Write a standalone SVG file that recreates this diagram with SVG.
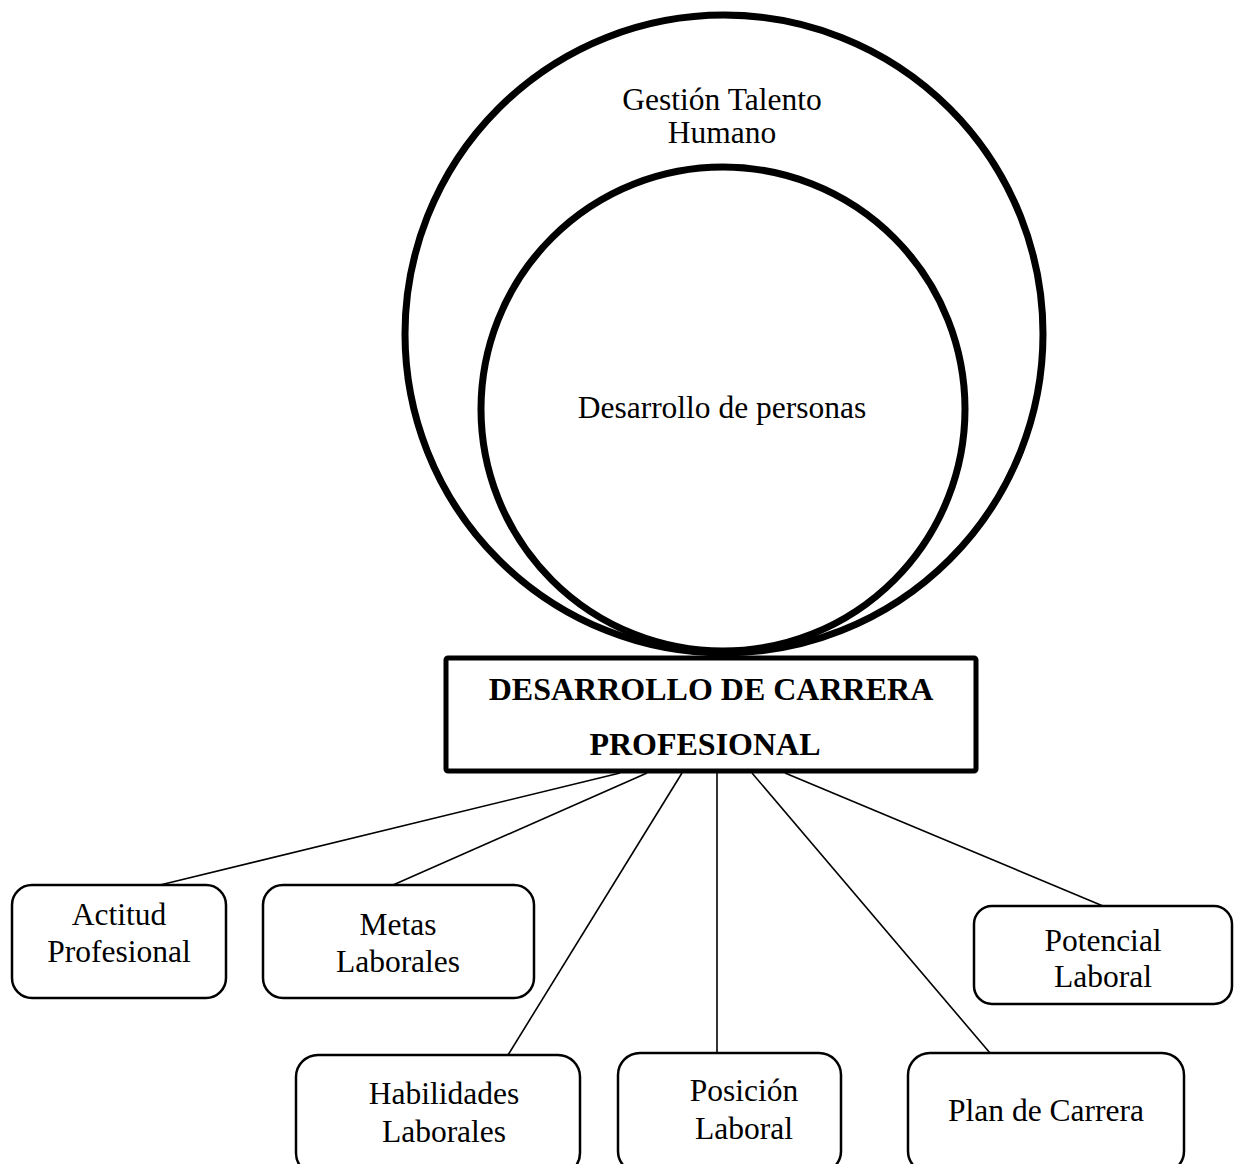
<svg xmlns="http://www.w3.org/2000/svg" width="1238" height="1164" viewBox="0 0 1238 1164">
<style>
text{font-family:"Liberation Serif","Times New Roman",serif;font-size:31.5px;fill:#000;text-anchor:middle}
.b{font-weight:bold;font-size:32px}
.circ{fill:#fff;stroke:#000;stroke-width:7}
.node{fill:#fff;stroke:#000;stroke-width:2.5}
.conn line{stroke:#000;stroke-width:1.6}
</style>
<rect width="1238" height="1164" fill="#fff"/>
<g id="outer">
<circle class="circ" cx="724" cy="334" r="319"/>
<text x="722" y="110">Gestión Talento</text>
<text x="722" y="143">Humano</text>
</g>
<g id="inner">
<circle class="circ" cx="723" cy="409" r="242"/>
<text x="722" y="418">Desarrollo de personas</text>
</g>
<g class="conn" id="connectors">
<line x1="620" y1="773" x2="160" y2="885"/>
<line x1="647" y1="773" x2="393" y2="885"/>
<line x1="682" y1="773" x2="508" y2="1055"/>
<line x1="717" y1="773" x2="717" y2="1053"/>
<line x1="752" y1="773" x2="990" y2="1053"/>
<line x1="785" y1="773" x2="1103" y2="906"/>
</g>
<g id="main">
<rect x="446" y="658" width="530" height="113" fill="#fff" stroke="#000" stroke-width="5" rx="2"/>
<text class="b" x="711" y="700">DESARROLLO DE CARRERA</text>
<text class="b" x="705" y="755">PROFESIONAL</text>
</g>
<g id="actitud">
<rect class="node" x="12" y="885" width="214" height="113" rx="20"/>
<text x="119" y="925">Actitud</text>
<text x="119" y="962">Profesional</text>
</g>
<g id="metas">
<rect class="node" x="263" y="885" width="271" height="113" rx="20"/>
<text x="398" y="935">Metas</text>
<text x="398" y="972">Laborales</text>
</g>
<g id="potencial">
<rect class="node" x="974" y="906" width="258" height="98" rx="18"/>
<text x="1103" y="951">Potencial</text>
<text x="1103" y="987">Laboral</text>
</g>
<g id="habilidades">
<rect class="node" x="296" y="1055" width="284" height="120" rx="22"/>
<text x="444" y="1104">Habilidades</text>
<text x="444" y="1142">Laborales</text>
</g>
<g id="posicion">
<rect class="node" x="618" y="1053" width="223" height="120" rx="22"/>
<text x="744" y="1101">Posición</text>
<text x="744" y="1139">Laboral</text>
</g>
<g id="plan">
<rect class="node" x="908" y="1053" width="276" height="120" rx="22"/>
<text x="1046" y="1121">Plan de Carrera</text>
</g>
</svg>
